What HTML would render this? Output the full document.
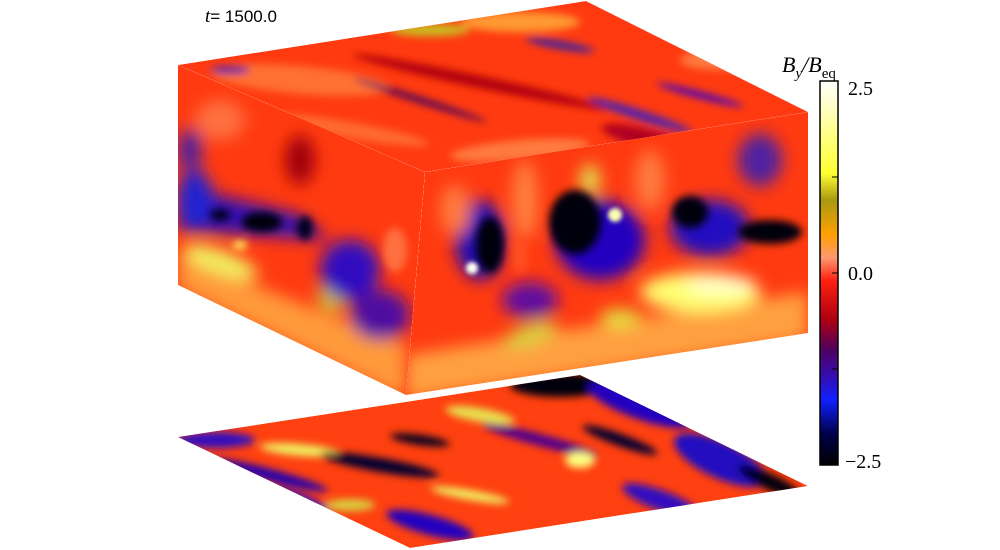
<!DOCTYPE html>
<html><head><meta charset="utf-8">
<style>
html,body{margin:0;padding:0;background:#fff;width:1000px;height:550px;overflow:hidden}
svg{display:block}
</style></head>
<body>
<svg width="1000" height="550" viewBox="0 0 1000 550">
<defs>
  <filter id="b8" x="-50%" y="-50%" width="200%" height="200%"><feGaussianBlur stdDeviation="8"/></filter>
  <filter id="b4" x="-50%" y="-50%" width="200%" height="200%"><feGaussianBlur stdDeviation="4"/></filter>
  <filter id="b2" x="-50%" y="-50%" width="200%" height="200%"><feGaussianBlur stdDeviation="2"/></filter>
  <clipPath id="cLeft"><polygon points="178,65 425,172 406,395 178,285"/></clipPath>
  <clipPath id="cRight"><polygon points="425,172 808,112 808,333 406,395"/></clipPath>
  <clipPath id="cTop"><polygon points="178,65 586,1 808,112 425,172"/></clipPath>
  <clipPath id="cSlice"><polygon points="178,437 580,375 808,486 410,548"/></clipPath>
  <linearGradient id="cbar" x1="0" y1="0" x2="0" y2="1">
    <stop offset="0" stop-color="#ffffff"/>
    <stop offset="0.10" stop-color="#ffffa8"/>
    <stop offset="0.24" stop-color="#ffff30"/>
    <stop offset="0.31" stop-color="#a89a10"/>
    <stop offset="0.40" stop-color="#ffa000"/>
    <stop offset="0.46" stop-color="#ff9870"/>
    <stop offset="0.52" stop-color="#ff2010"/>
    <stop offset="0.62" stop-color="#b00010"/>
    <stop offset="0.70" stop-color="#500060"/>
    <stop offset="0.78" stop-color="#3010c0"/>
    <stop offset="0.83" stop-color="#1020ff"/>
    <stop offset="0.92" stop-color="#00004a"/>
    <stop offset="1" stop-color="#000000"/>
  </linearGradient>
</defs>

<text x="205" y="22" font-family="Liberation Sans, sans-serif" font-size="17" fill="#000"><tspan font-style="italic" font-family="Liberation Serif, serif" font-size="19">t</tspan>=  1500.0</text>

<!-- top face -->
<g clip-path="url(#cTop)">
  <polygon points="178,65 586,1 808,112 425,172" fill="#ff3a10"/>
  <g filter="url(#b4)">
    <ellipse cx="300" cy="80" rx="90" ry="14" fill="#ff7030" transform="rotate(5 300 80)"/>
    <ellipse cx="480" cy="82" rx="130" ry="6" fill="#b00010" transform="rotate(12 480 82)"/>
    <ellipse cx="430" cy="30" rx="40" ry="6" fill="#c8c020"/>
    <ellipse cx="520" cy="22" rx="60" ry="10" fill="#ff9a30"/>
    <ellipse cx="560" cy="45" rx="35" ry="4" fill="#4020a0" transform="rotate(10 560 45)"/>
    <ellipse cx="640" cy="115" rx="55" ry="5" fill="#5020b0" transform="rotate(18 640 115)"/>
    <ellipse cx="700" cy="95" rx="45" ry="3" fill="#3000d0" transform="rotate(15 700 95)"/>
    <ellipse cx="520" cy="150" rx="70" ry="10" fill="#ff7a40" transform="rotate(-5 520 150)"/>
    <ellipse cx="650" cy="140" rx="50" ry="10" fill="#b00020" transform="rotate(15 650 140)"/>
    <ellipse cx="350" cy="130" rx="80" ry="8" fill="#ff6a30" transform="rotate(10 350 130)"/>
    <ellipse cx="420" cy="100" rx="70" ry="3" fill="#400060" transform="rotate(18 420 100)"/>
    <ellipse cx="230" cy="70" rx="20" ry="4" fill="#6020a0"/>
    <ellipse cx="720" cy="60" rx="40" ry="10" fill="#ff7a40"/>
    <ellipse cx="560" cy="165" rx="18" ry="8" fill="#d0d040"/>
  </g>
</g>

<!-- left face -->
<g clip-path="url(#cLeft)">
  <polygon points="178,65 425,172 406,395 178,285" fill="#ff3a10"/>
  <g filter="url(#b8)">
    <polygon points="178,255 406,345 406,400 178,290" fill="#ff9a3a"/>
    <polygon points="178,185 300,215 330,240 178,230" fill="#3010b0"/>
    <ellipse cx="220" cy="262" rx="40" ry="12" fill="#f0f060" transform="rotate(20 220 262)"/>
    <ellipse cx="330" cy="300" rx="15" ry="10" fill="#c8c030" transform="rotate(40 330 300)"/>
    <ellipse cx="195" cy="200" rx="18" ry="30" fill="#2020d0"/>
    <ellipse cx="350" cy="270" rx="30" ry="30" fill="#3010c0"/>
    <ellipse cx="380" cy="315" rx="30" ry="25" fill="#5010a0"/>
    <ellipse cx="220" cy="120" rx="25" ry="20" fill="#ff7040"/>
    <ellipse cx="300" cy="160" rx="15" ry="25" fill="#a00010"/>
    <ellipse cx="190" cy="150" rx="12" ry="22" fill="#5020a0"/>
  </g>
  <g filter="url(#b4)">
    <ellipse cx="262" cy="222" rx="20" ry="10" fill="#000010"/>
    <ellipse cx="305" cy="228" rx="8" ry="12" fill="#000020"/>
    <ellipse cx="220" cy="215" rx="10" ry="6" fill="#000020"/>
    <ellipse cx="240" cy="245" rx="7" ry="4" fill="#ffff60"/>
    <ellipse cx="395" cy="250" rx="12" ry="22" fill="#ff7040"/>
  </g>
</g>

<!-- right face -->
<g clip-path="url(#cRight)">
  <polygon points="425,172 808,112 808,333 406,395" fill="#ff3a10"/>
  <g filter="url(#b8)">
    <polygon points="406,355 808,292 808,340 406,400" fill="#ffa040"/>
    <ellipse cx="600" cy="240" rx="45" ry="40" fill="#2000c0"/>
    <ellipse cx="710" cy="228" rx="40" ry="28" fill="#2010c0"/>
    <ellipse cx="480" cy="240" rx="25" ry="40" fill="#2010b0"/>
    <ellipse cx="760" cy="160" rx="22" ry="26" fill="#5020a0"/>
    <ellipse cx="530" cy="300" rx="28" ry="18" fill="#6010a0"/>
    <ellipse cx="525" cy="200" rx="13" ry="40" fill="#ff8040"/>
    <ellipse cx="650" cy="180" rx="15" ry="30" fill="#ff7a40"/>
    <ellipse cx="455" cy="210" rx="15" ry="25" fill="#ff7a40"/>
    <ellipse cx="700" cy="292" rx="60" ry="20" fill="#ffff70"/>
    <ellipse cx="720" cy="285" rx="35" ry="10" fill="#ffffc8"/>
    <ellipse cx="620" cy="318" rx="20" ry="9" fill="#e0e040"/>
    <ellipse cx="530" cy="335" rx="28" ry="10" fill="#d8d040" transform="rotate(-20 530 335)"/>
    <ellipse cx="590" cy="180" rx="10" ry="16" fill="#e0e050"/>
  </g>
  <g filter="url(#b4)">
    <ellipse cx="490" cy="245" rx="14" ry="28" fill="#000010"/>
    <ellipse cx="575" cy="222" rx="26" ry="32" fill="#000008"/>
    <ellipse cx="690" cy="212" rx="18" ry="16" fill="#000010"/>
    <ellipse cx="770" cy="232" rx="32" ry="12" fill="#000010"/>
    <ellipse cx="520" cy="255" rx="8" ry="18" fill="#ff5020"/>
  </g>
  <g filter="url(#b2)">
    <circle cx="472" cy="268" r="6" fill="#fffff0"/>
    <circle cx="615" cy="215" r="7" fill="#ffffb0"/>
  </g>
</g>

<!-- bottom slice -->
<g clip-path="url(#cSlice)">
  <polygon points="178,437 580,375 808,486 410,548" fill="#ff4010"/>
  <g filter="url(#b4)">
    <ellipse cx="560" cy="385" rx="50" ry="12" fill="#000010"/>
    <ellipse cx="640" cy="405" rx="55" ry="14" fill="#2000c0" transform="rotate(20 640 405)"/>
    <ellipse cx="720" cy="460" rx="50" ry="18" fill="#2010c0" transform="rotate(25 720 460)"/>
    <ellipse cx="770" cy="482" rx="35" ry="8" fill="#000010" transform="rotate(25 770 482)"/>
    <ellipse cx="215" cy="440" rx="40" ry="8" fill="#3010c0"/>
    <ellipse cx="300" cy="450" rx="40" ry="6" fill="#f0f060" transform="rotate(5 300 450)"/>
    <ellipse cx="270" cy="475" rx="60" ry="6" fill="#2000b0" transform="rotate(15 270 475)"/>
    <ellipse cx="380" cy="465" rx="60" ry="7" fill="#000030" transform="rotate(10 380 465)"/>
    <ellipse cx="480" cy="415" rx="35" ry="7" fill="#e8e050" transform="rotate(10 480 415)"/>
    <ellipse cx="540" cy="440" rx="60" ry="6" fill="#500090" transform="rotate(15 540 440)"/>
    <ellipse cx="580" cy="460" rx="15" ry="8" fill="#ffff80"/>
    <ellipse cx="430" cy="525" rx="45" ry="10" fill="#2000c0" transform="rotate(15 430 525)"/>
    <ellipse cx="470" cy="495" rx="40" ry="5" fill="#f0f060" transform="rotate(10 470 495)"/>
    <ellipse cx="660" cy="500" rx="40" ry="10" fill="#3010c0" transform="rotate(20 660 500)"/>
    <ellipse cx="350" cy="505" rx="25" ry="6" fill="#d8d040"/>
    <ellipse cx="420" cy="440" rx="30" ry="5" fill="#000020" transform="rotate(8 420 440)"/>
    <ellipse cx="620" cy="440" rx="40" ry="6" fill="#000030" transform="rotate(20 620 440)"/>
    <ellipse cx="300" cy="500" rx="30" ry="6" fill="#3010c0" transform="rotate(20 300 500)"/>
  </g>
</g>

<!-- colorbar -->
<g>
  <rect x="820" y="81" width="18" height="384" fill="url(#cbar)" stroke="#000" stroke-width="1.5"/>
  <g id="cbticks"></g>
  <text x="782" y="72" font-family="Liberation Serif, serif" font-size="22" font-style="italic">B<tspan font-size="15" dy="6">y</tspan><tspan dy="-6">/B</tspan><tspan font-size="15" dy="6" font-style="normal">eq</tspan></text>
</g>
<script>
const tickValues = [2.5, 1.25, 0.0, -1.25, -2.5];
const tickLabels = ["2.5", "", "0.0", "", "\u22122.5"];
const vmin = -2.5, vmax = 2.5;
const y = v => 465 - (v - vmin) / (vmax - vmin) * 384;
const g = document.getElementById('cbticks');
const ns = 'http://www.w3.org/2000/svg';
tickValues.forEach((v, i) => {
  const ty = y(v);
  if (i > 0 && i < tickValues.length - 1) {
    const l = document.createElementNS(ns, 'line');
    l.setAttribute('x1', 832); l.setAttribute('x2', 838);
    l.setAttribute('y1', ty); l.setAttribute('y2', ty);
    l.setAttribute('stroke', '#000');
    
    
    g.appendChild(l);
  }
  if (tickLabels[i]) {
    const t = document.createElementNS(ns, 'text');
    t.setAttribute('x', tickLabels[i].startsWith('\u2212') ? 845 : 848);
    t.setAttribute('y', Math.min(Math.max(ty + 7, 95), 468));
    t.setAttribute('font-family', 'Liberation Serif, serif');
    t.setAttribute('font-size', '20');
    t.textContent = tickLabels[i];
    
    
    g.appendChild(t);
  }
});
</script>
</svg>
</body></html>
